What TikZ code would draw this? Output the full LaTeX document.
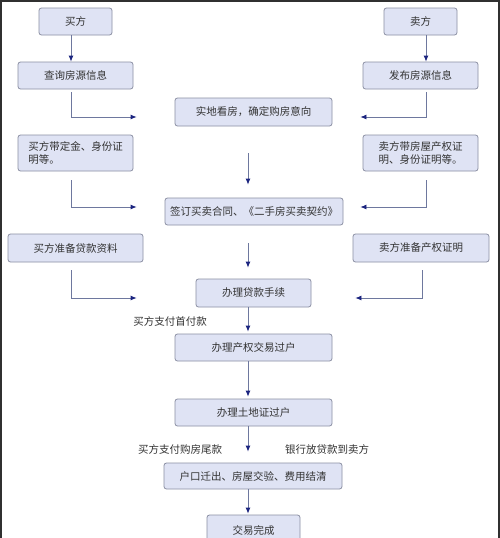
\documentclass[tikz,border=0pt]{standalone}
\usepackage{fontspec}
\setmainfont{Noto Sans CJK SC}
\usetikzlibrary{arrows.meta,calc}
\definecolor{boxfill}{HTML}{DFE3F4}
\definecolor{boxline}{HTML}{8A8FA3}
\definecolor{conn}{HTML}{6E789E}
\definecolor{tipc}{HTML}{1C2580}
\definecolor{txt}{HTML}{333333}
\definecolor{frame}{HTML}{303030}
\begin{document}
\begin{tikzpicture}[x=1pt,y=-1pt,
  box/.style={draw=boxline,fill=boxfill,line width=0.8pt,rounded corners=2.5pt,
    inner sep=0pt,font=\fontsize{10.5}{13}\selectfont,text=txt,anchor=center},
  lbl/.style={font=\fontsize{10.5}{13}\selectfont,text=txt,inner sep=0pt},
  arr/.style={draw=conn,line width=0.8pt,-{Latex[length=6pt,width=5pt,color=tipc]}}]
\useasboundingbox (0,0) rectangle (500,538);
\fill[white] (0,0) rectangle (500,538);
\draw[frame,line width=1.5pt] (0.75,538) -- (0.75,0.75) -- (498.75,0.75) -- (498.75,538);
\coordinate (axis) at (248,0);

\node[box,minimum width=73pt,minimum height=27pt] (buyer) at (75.5,21.5) {买方};
\node[box,minimum width=73pt,minimum height=27pt] (seller) at (420.5,21.5) {卖方};
\node[box,minimum width=115pt,minimum height=27pt] (q) at (75.5,75.5) {查询房源信息};
\node[box,minimum width=115pt,minimum height=27pt] (pub) at (420.5,75.5) {发布房源信息};
\node[box,minimum width=157pt,minimum height=28pt] (view) at (253.5,112) {实地看房，确定购房意向};
\node[box,minimum width=115pt,minimum height=36pt,align=left] (bd) at (75.5,153) {买方带定金、身份证\\明等。};
\node[box,minimum width=115pt,minimum height=36pt,align=left] (sd) at (420.5,153) {卖方带房屋产权证\\明、身份证明等。};
\node[box,minimum width=178pt,minimum height=27pt] (sign) at (254,211.5) {签订买卖合同、《二手房买卖契约》};
\node[box,minimum width=135pt,minimum height=28pt] (bl) at (75.5,248) {买方准备贷款资料};
\node[box,minimum width=136pt,minimum height=28pt] (sl) at (421,248) {卖方准备产权证明};
\node[box,minimum width=115pt,minimum height=28pt] (loan) at (253.5,293) {办理贷款手续};
\node[box,minimum width=157pt,minimum height=27pt] (trans) at (253.5,347.5) {办理产权交易过户};
\node[box,minimum width=157pt,minimum height=27pt] (land) at (253.5,412.5) {办理土地证过户};
\node[box,minimum width=178pt,minimum height=26pt] (hukou) at (253,476) {户口迁出、房屋交验、费用结清};
\node[box,minimum width=93pt,minimum height=40pt,text height=0pt] (done) at (253.5,535) {};
\node[lbl] (doneText) at (253.5,530) {交易完成};

\node[lbl] (l1) at (170,321) {买方支付首付款};
\node[lbl] (l2) at (180,449) {买方支付购房尾款};
\node[lbl] (l3) at (327,449) {银行放贷款到卖方};

\draw[arr] ($(buyer.south)+(-4.5,0)$) -- ($(q.north)+(-4.5,0)$);
\draw[arr] ($(seller.south)+(5.5,0)$) -- ($(pub.north)+(5.5,0)$);
\draw[arr] ($(q.south)+(-4.5,3)$) |- ($(view.west)+(-38,5)$);
\draw[arr] ($(pub.south)+(5.5,3)$) |- ($(view.east)+(28,5)$);
\draw[arr] ($(view.south -| axis)+(0,27)$) -- ($(sign.north -| axis)+(0,-13)$);
\draw[arr] ($(bd.south)+(-4.5,9)$) |- ($(sign.west)+(-28,-4.5)$);
\draw[arr] ($(sd.south)+(5.5,9)$) |- ($(sign.east)+(17,-4.5)$);
\draw[arr] ($(sign.south -| axis)+(0,18)$) -- ($(loan.north -| axis)+(0,-11)$);
\draw[arr] ($(bl.south)+(-4.5,8)$) |- ($(loan.west)+(-59,5)$);
\draw[arr] ($(sl.south)+(1,8)$) |- ($(loan.east)+(44,5)$);
\draw[arr] (loan.south -| axis) -- ($(trans.north -| axis)+(0,-2)$);
\draw[arr] (trans.south -| axis) -- ($(land.north -| axis)+(0,-2)$);
\draw[arr] (land.south -| axis) -- ($(hukou.north -| axis)+(0,-11)$);
\draw[arr] (hukou.south -| axis) -- ($(done.north -| axis)+(0,-1)$);
\end{tikzpicture}
\end{document}
